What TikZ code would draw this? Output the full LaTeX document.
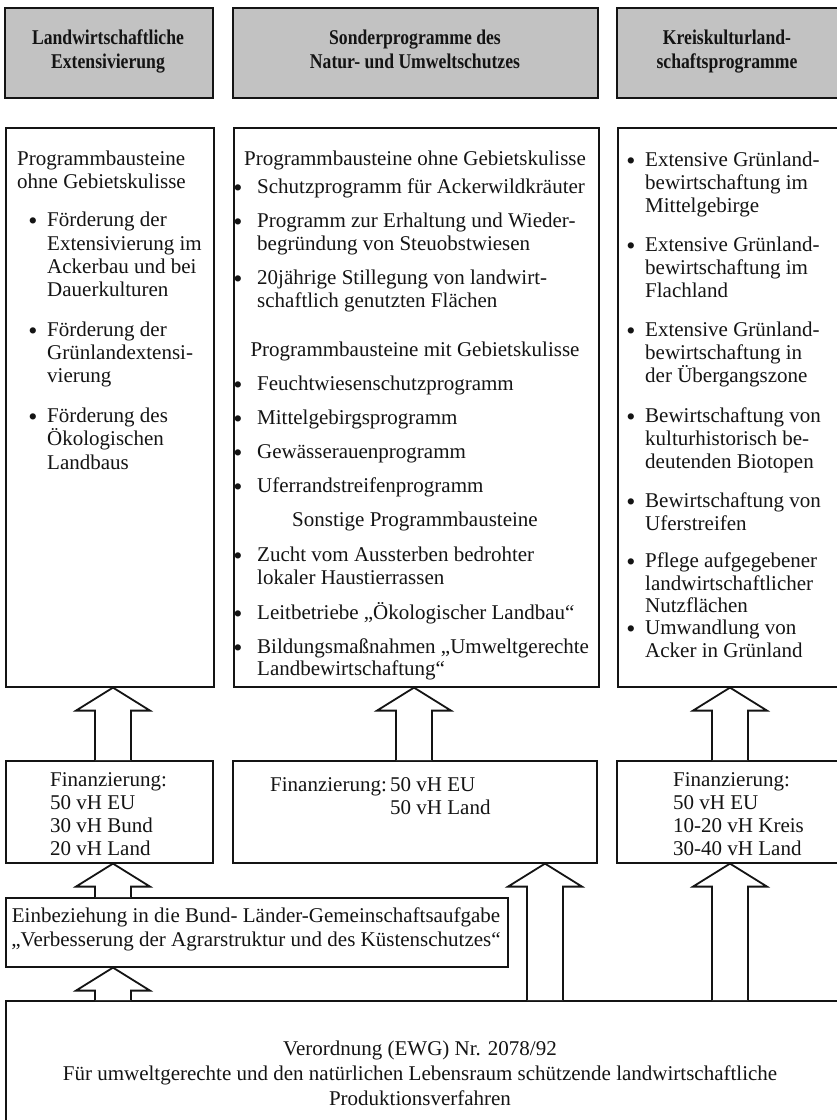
\documentclass[tikz,border=0pt]{standalone}
\usepackage{fontspec}
\setmainfont{Liberation Serif}
\newfontfamily\headfont{Liberation Serif}[FakeStretch=0.84]
\usetikzlibrary{calc}

\definecolor{headgray}{RGB}{194,194,194}
\definecolor{ink}{RGB}{20,20,20}

% upward block arrow from the top of #2 to the bottom of #3, centred on the x of #1
\newcommand{\blockarrow}[3]{%
  \draw[arrowline] let \p1=(#2.north -| #1), \p2=(#3.south -| #1) in
    (\x1-18pt,\y1) -- (\x1-18pt,\y2-23pt) -- (\x1-37pt,\y2-23pt) -- (\x2,\y2)
    -- (\x1+37pt,\y2-23pt) -- (\x1+18pt,\y2-23pt) -- (\x1+18pt,\y1);}

\begin{document}
\begin{tikzpicture}[x=1pt,y=-1pt,
  box/.style={draw=ink, line width=1.6pt, fill=white, anchor=north west, inner sep=0pt},
  headbox/.style={box, fill=headgray},
  txt/.style={anchor=base west, inner sep=0pt, font=\fontsize{21}{23}\selectfont, text=ink},
  ctxt/.style={txt, anchor=base},
  bul/.style={anchor=base, inner sep=0pt, font=\fontsize{26}{26}\selectfont, text=ink},
  htxt/.style={anchor=base, inner sep=0pt, font=\headfont\bfseries\fontsize{21}{24}\selectfont, text=ink},
  arrowline/.style={draw=ink, line width=1.8pt, fill=white, line join=miter},
]
\useasboundingbox (0,0) rectangle (836,1120);
\fill[white] (0,0) rectangle (836,1120);

% ---------- headers ----------
\node[headbox, minimum width=208pt, minimum height=90pt] (h1) at (4,7) {};
\node[headbox, minimum width=365pt, minimum height=90pt] (h2) at (232,7) {};
\node[headbox, minimum width=224pt, minimum height=90pt] (h3) at (616,7) {};
\node[htxt] (h1a) at (108,44) {Landwirtschaftliche};
\node[htxt] (h1b) at (108,68) {Extensivierung};
\node[htxt] (h2a) at (415,44) {Sonderprogramme des};
\node[htxt] (h2b) at (415,68) {Natur- und Umweltschutzes};
\node[htxt] (h3a) at (727,44) {Kreiskulturland-};
\node[htxt] (h3b) at (727,68) {schaftsprogramme};

% ---------- programme boxes ----------
\node[box, minimum width=208pt, minimum height=559pt] (m1) at (5,127) {};
\node[box, minimum width=365pt, minimum height=559pt] (m2) at (233,127) {};
\node[box, minimum width=223pt, minimum height=559pt] (m3) at (617,127) {};

% column 1
\node[txt] (c1h1) at (17,165) {Programmbausteine};
\node[txt] (c1h2) at (17,188) {ohne Gebietskulisse};
\foreach \y in {226,336,422} \node[bul] (c1b\y) at (33,\y+3) {•};
\foreach \t/\y [count=\i] in {F\"orderung der/226, Extensivierung im/250, Ackerbau und bei/273,
  Dauerkulturen/296, F\"orderung der/336, Gr\"unlandextensi-/359, vierung/382,
  F\"orderung des/422, \"Okologischen/445, Landbaus/469}
  \node[txt] (c1l\i) at (47,\y) {\t};

% column 2
\node[ctxt] (c2h1) at (415,165) {Programmbausteine ohne Gebietskulisse};
\node[ctxt] (c2h2) at (415,356) {Programmbausteine mit Gebietskulisse};
\node[ctxt] (c2h3) at (415,526) {Sonstige Programmbausteine};
\foreach \y in {193,227,284,390,424,458,492,561,619,653} \node[bul] (c2b\y) at (238,\y+3) {•};
\foreach \t/\y [count=\i] in {Schutzprogramm f\"ur Ackerwildkr\"auter/193,
  Programm zur Erhaltung und Wieder-/227, begr\"undung von Steuobstwiesen/250,
  20j\"ahrige Stillegung von landwirt-/284, schaftlich genutzten Fl\"achen/307,
  Feuchtwiesenschutzprogramm/390, Mittelgebirgsprogramm/424,
  Gew\"asserauenprogramm/458, Uferrandstreifenprogramm/492,
  Zucht vom Aussterben bedrohter/561, lokaler Haustierrassen/584,
  {Leitbetriebe „\"Okologischer Landbau“}/619,
  {Bildungsma\ss nahmen „Umweltgerechte}/653, {Landbewirtschaftung“}/675}
  \node[txt] (c2l\i) at (257,\y) {\t};

% column 3
\foreach \y in {166,251,336,422,507,567,634} \node[bul] (c3b\y) at (631,\y+3) {•};
\foreach \t/\y [count=\i] in {Extensive Gr\"unland-/166, bewirtschaftung im/189, Mittelgebirge/212,
  Extensive Gr\"unland-/251, bewirtschaftung im/274, Flachland/297,
  Extensive Gr\"unland-/336, bewirtschaftung in/359, der \"Ubergangszone/382,
  Bewirtschaftung von/422, kulturhistorisch be-/445, deutenden Biotopen/468,
  Bewirtschaftung von/507, Uferstreifen/530,
  Pflege aufgegebener/567, landwirtschaftlicher/590, Nutzfl\"achen/612,
  Umwandlung von/634, Acker in Gr\"unland/657}
  \node[txt] (c3l\i) at (645,\y) {\t};

% ---------- financing boxes ----------
\node[box, minimum width=207pt, minimum height=102pt] (f1) at (5,760) {};
\node[box, minimum width=364pt, minimum height=102pt] (f2) at (232,760) {};
\node[box, minimum width=224pt, minimum height=102pt] (f3) at (616,760) {};
\foreach \t/\y [count=\i] in {Finanzierung:/786, 50 vH EU/809, 30 vH Bund/832, 20 vH Land/855}
  \node[txt] (f1l\i) at (50,\y) {\t};
\node[txt] (f2l1) at (270,791) {Finanzierung:};
\node[txt] (f2l2) at (390,791) {50 vH EU};
\node[txt] (f2l3) at (390,814) {50 vH Land};
\foreach \t/\y [count=\i] in {Finanzierung:/786, 50 vH EU/809, 10-20 vH Kreis/832, 30-40 vH Land/855}
  \node[txt] (f3l\i) at (673,\y) {\t};

% ---------- joint task box ----------
\node[box, minimum width=502pt, minimum height=69pt] (gk) at (5,897) {};
\node[ctxt] (gk1) at (256,922) {Einbeziehung in die Bund- L\"ander-Gemeinschaftsaufgabe};
\node[ctxt] (gk2) at (256,946) {„Verbesserung der Agrarstruktur und des K\"ustenschutzes“};

% ---------- regulation box ----------
\node[box, minimum width=840pt, minimum height=130pt] (vo) at (5,1000) {};
\node[ctxt] (vo1) at (420,1055) {Verordnung (EWG) Nr. 2078/92};
\node[ctxt] (vo2) at (420,1080) {F\"ur umweltgerechte und den nat\"urlichen Lebensraum sch\"utzende landwirtschaftliche};
\node[ctxt] (vo3) at (420,1105) {Produktionsverfahren};

% ---------- arrows ----------
\coordinate (ax1) at (113,0);
\coordinate (ax2) at (414,0);
\coordinate (ax3) at (730,0);
\coordinate (ax4) at (545,0);
\blockarrow{ax1}{f1}{m1}
\blockarrow{ax2}{f2}{m2}
\blockarrow{ax3}{f3}{m3}
\blockarrow{ax1}{gk}{f1}
\blockarrow{ax1}{vo}{gk}
\blockarrow{ax4}{vo}{f2}
\blockarrow{ax3}{vo}{f3}
\end{tikzpicture}
\end{document}
